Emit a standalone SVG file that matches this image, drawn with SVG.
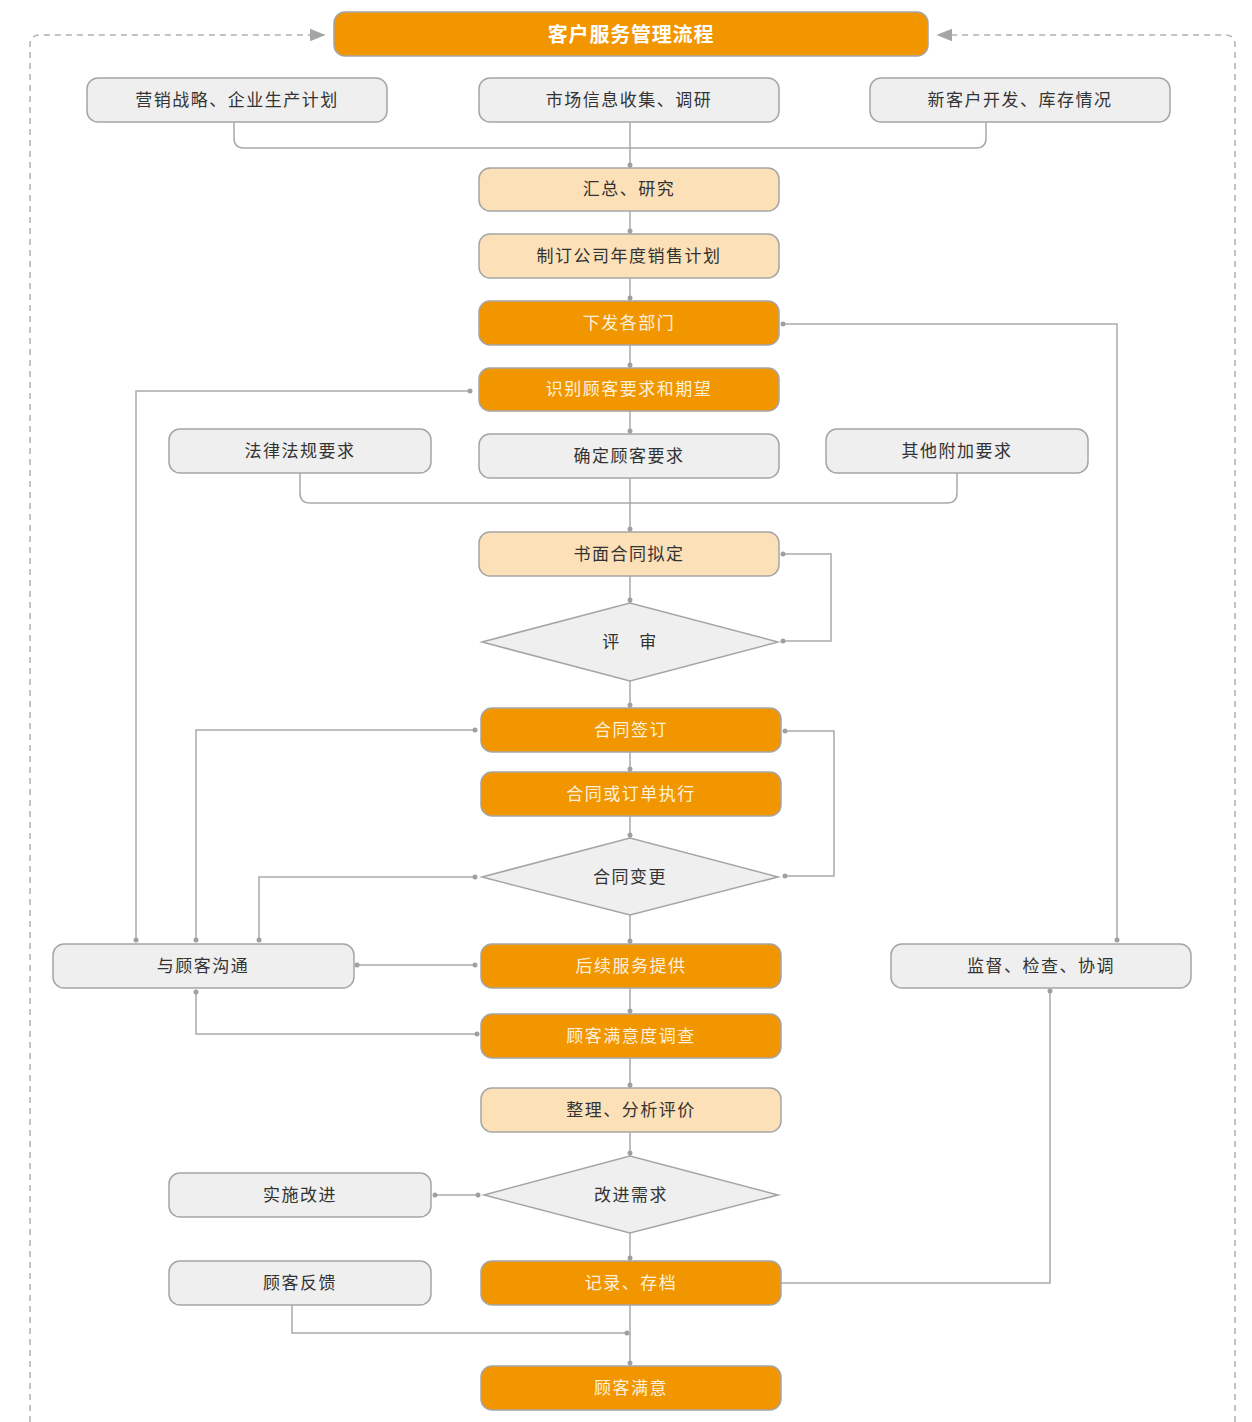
<svg xmlns="http://www.w3.org/2000/svg" width="1252" height="1422" viewBox="0 0 1252 1422">
<style>
.n rect,.n polygon{stroke:#a5a5a5;stroke-width:1.5}
.g{fill:#efefef}
.o{fill:#f29600}
.l{fill:#fbe0b8}
text{font-family:"Noto Sans CJK SC","Noto Sans",sans-serif;font-size:17px;text-anchor:middle;letter-spacing:1.5px}
.dk{fill:#333}
.wt{fill:#fdf1dc}
.c path{fill:none;stroke:#aaa;stroke-width:1.5}
.c circle{fill:#a0a0a0}
.d{fill:none;stroke:#b0b0b0;stroke-width:1.5;stroke-dasharray:6 5}
</style>
<defs>
<marker id="ah" viewBox="0 0 10 10" refX="9" refY="5" markerWidth="16" markerHeight="16" markerUnits="userSpaceOnUse" orient="auto">
<path d="M0,1 L10,5 L0,9 Z" fill="#a5a5a5"/>
</marker>
</defs>
<rect width="1252" height="1422" fill="#fff"/>

<g id="frame">
<path class="d" d="M30,1422 V45 Q30,35 40,35 H324" marker-end="url(#ah)"/>
<path class="d" d="M1235,1422 V45 Q1235,35 1225,35 H938" marker-end="url(#ah)"/>
</g>

<g class="c" id="connectors">
<path d="M234,122 V138 Q234,148 244,148 H976 Q986,148 986,138 V122"/>
<path d="M630,122 V168"/><circle cx="630" cy="165" r="2.5"/>
<path d="M630,211 V234"/><circle cx="630" cy="231" r="2.5"/>
<path d="M630,278 V301"/><circle cx="630" cy="298" r="2.5"/>
<path d="M630,345 V368"/><circle cx="630" cy="365" r="2.5"/>
<path d="M630,411 V434"/><circle cx="630" cy="431" r="2.5"/>
<path d="M300,473 V493 Q300,503 310,503 H947 Q957,503 957,493 V473"/>
<path d="M630,478 V532"/><circle cx="630" cy="529" r="2.5"/>
<path d="M630,576 V603"/><circle cx="630" cy="600" r="2.5"/>
<path d="M630,681 V708"/><circle cx="630" cy="705" r="2.5"/>
<path d="M630,752 V772"/><circle cx="630" cy="769" r="2.5"/>
<path d="M630,816 V838"/><circle cx="630" cy="835" r="2.5"/>
<path d="M630,915 V944"/><circle cx="630" cy="941" r="2.5"/>
<path d="M630,988 V1014"/><circle cx="630" cy="1011" r="2.5"/>
<path d="M630,1058 V1088"/><circle cx="630" cy="1085" r="2.5"/>
<path d="M630,1132 V1156"/><circle cx="630" cy="1153" r="2.5"/>
<path d="M630,1233 V1261"/><circle cx="630" cy="1258" r="2.5"/>
<path d="M630,1305 V1366"/><circle cx="630" cy="1363" r="2.5"/>

<path d="M783,324 H1117 V940"/><circle cx="783" cy="324" r="2.5"/><circle cx="1117" cy="940" r="2.5"/>
<path d="M136,940 V391 H470"/><circle cx="136" cy="940" r="2.5"/><circle cx="470" cy="391" r="2.5"/>
<path d="M783,554 H831 V641 H783"/><circle cx="783" cy="554" r="2.5"/><circle cx="783" cy="641" r="2.5"/>
<path d="M475,730 H196 V940"/><circle cx="475" cy="730" r="2.5"/><circle cx="196" cy="940" r="2.5"/>
<path d="M785,731 H834 V876 H785"/><circle cx="785" cy="731" r="2.5"/><circle cx="785" cy="876" r="2.5"/>
<path d="M475,877 H259 V940"/><circle cx="475" cy="877" r="2.5"/><circle cx="259" cy="940" r="2.5"/>
<path d="M357,965 H475"/><circle cx="357" cy="965" r="2.5"/><circle cx="475" cy="965" r="2.5"/>
<path d="M196,992 V1034 H477"/><circle cx="196" cy="992" r="2.5"/><circle cx="477" cy="1034" r="2.5"/>
<path d="M478,1195 H435"/><circle cx="478" cy="1195" r="2.5"/><circle cx="435" cy="1195" r="2.5"/>
<path d="M1050,991 V1283 H781"/><circle cx="1050" cy="991" r="2.5"/>
<path d="M292,1305 V1333 H627"/><circle cx="627" cy="1333" r="2.5"/>
</g>

<g id="title" class="n"><rect x="334" y="12" width="594" height="44" rx="11" class="o"/><text x="631" y="42" style="font-size:20px;font-weight:bold;letter-spacing:0.8px" fill="#fff">客户服务管理流程</text></g>

<g id="n1" class="n"><rect x="87" y="78" width="300" height="44" rx="11" class="g"/><text x="237" y="106" class="dk">营销战略、企业生产计划</text></g>
<g id="n2" class="n"><rect x="479" y="78" width="300" height="44" rx="11" class="g"/><text x="629" y="106" class="dk">市场信息收集、调研</text></g>
<g id="n3" class="n"><rect x="870" y="78" width="300" height="44" rx="11" class="g"/><text x="1020" y="106" class="dk">新客户开发、库存情况</text></g>

<g id="n4" class="n"><rect x="479" y="168" width="300" height="43" rx="11" class="l"/><text x="629" y="195" class="dk">汇总、研究</text></g>
<g id="n5" class="n"><rect x="479" y="234" width="300" height="44" rx="11" class="l"/><text x="629" y="262" class="dk">制订公司年度销售计划</text></g>
<g id="n6" class="n"><rect x="479" y="301" width="300" height="44" rx="11" class="o"/><text x="629" y="329" class="wt">下发各部门</text></g>
<g id="n7" class="n"><rect x="479" y="368" width="300" height="43" rx="11" class="o"/><text x="629" y="395" class="wt">识别顾客要求和期望</text></g>
<g id="n8" class="n"><rect x="479" y="434" width="300" height="44" rx="11" class="g"/><text x="629" y="462" class="dk">确定顾客要求</text></g>
<g id="n9" class="n"><rect x="169" y="429" width="262" height="44" rx="11" class="g"/><text x="300" y="457" class="dk">法律法规要求</text></g>
<g id="n10" class="n"><rect x="826" y="429" width="262" height="44" rx="11" class="g"/><text x="957" y="457" class="dk">其他附加要求</text></g>

<g id="n11" class="n"><rect x="479" y="532" width="300" height="44" rx="11" class="l"/><text x="629" y="560" class="dk">书面合同拟定</text></g>
<g id="n12" class="n"><polygon points="482,642 630,603 778,642 630,681" class="g"/><text x="630" y="648" class="dk">评　审</text></g>
<g id="n13" class="n"><rect x="481" y="708" width="300" height="44" rx="11" class="o"/><text x="631" y="736" class="wt">合同签订</text></g>
<g id="n14" class="n"><rect x="481" y="772" width="300" height="44" rx="11" class="o"/><text x="631" y="800" class="wt">合同或订单执行</text></g>
<g id="n15" class="n"><polygon points="482,877 630,838 778,877 630,915" class="g"/><text x="630" y="883" class="dk">合同变更</text></g>
<g id="n16" class="n"><rect x="481" y="944" width="300" height="44" rx="11" class="o"/><text x="631" y="972" class="wt">后续服务提供</text></g>
<g id="n17" class="n"><rect x="53" y="944" width="301" height="44" rx="11" class="g"/><text x="203" y="972" class="dk">与顾客沟通</text></g>
<g id="n18" class="n"><rect x="891" y="944" width="300" height="44" rx="11" class="g"/><text x="1041" y="972" class="dk">监督、检查、协调</text></g>
<g id="n19" class="n"><rect x="481" y="1014" width="300" height="44" rx="11" class="o"/><text x="631" y="1042" class="wt">顾客满意度调查</text></g>
<g id="n20" class="n"><rect x="481" y="1088" width="300" height="44" rx="11" class="l"/><text x="631" y="1116" class="dk">整理、分析评价</text></g>
<g id="n21" class="n"><polygon points="484,1195 630,1156 778,1195 630,1233" class="g"/><text x="631" y="1201" class="dk">改进需求</text></g>
<g id="n22" class="n"><rect x="169" y="1173" width="262" height="44" rx="11" class="g"/><text x="300" y="1201" class="dk">实施改进</text></g>
<g id="n23" class="n"><rect x="481" y="1261" width="300" height="44" rx="11" class="o"/><text x="631" y="1289" class="wt">记录、存档</text></g>
<g id="n24" class="n"><rect x="169" y="1261" width="262" height="44" rx="11" class="g"/><text x="300" y="1289" class="dk">顾客反馈</text></g>
<g id="n25" class="n"><rect x="481" y="1366" width="300" height="44" rx="11" class="o"/><text x="631" y="1394" class="wt">顾客满意</text></g>
</svg>
